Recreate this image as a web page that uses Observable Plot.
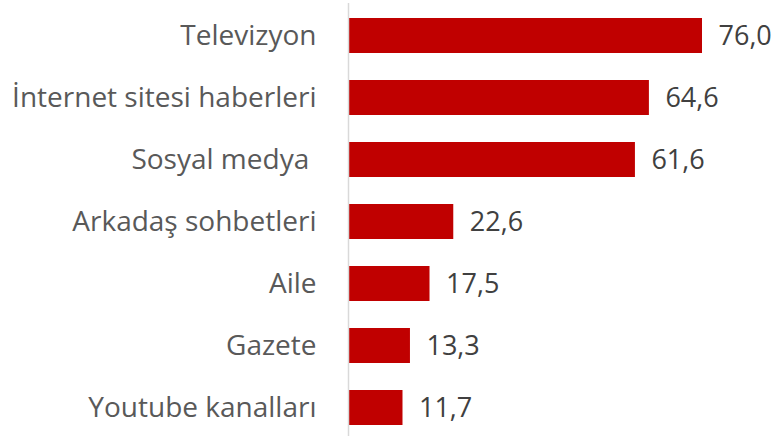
<!DOCTYPE html>
<html>
<head>
<meta charset="utf-8">
<script src="https://cdn.jsdelivr.net/npm/d3@7"></script>
<script src="https://cdn.jsdelivr.net/npm/@observablehq/plot@0.6"></script>
<style>
  body { margin: 0; background: #fff; }
  svg text { white-space: pre; }
</style>
</head>
<body>
<div id="chart"></div>
<script>
const categories = ["Televizyon", "İnternet sitesi haberleri", "Sosyal medya ", "Arkadaş sohbetleri", "Aile", "Gazete", "Youtube kanalları"];
const values = [76.0, 64.6, 61.6, 22.6, 17.5, 13.3, 11.7];

const data = categories.map((c, i) => ({category: c, value: values[i]}));
const fmt = v => d3.format(".1f")(v).replace(".", ",");
const FONT = "'Open Sans', sans-serif";

const chart = Plot.plot({
  width: 778,
  height: 438,
  marginLeft: 348,
  marginRight: 76,
  marginTop: 16,
  marginBottom: 12,
  style: {fontFamily: FONT, background: "#fff"},
  x: {domain: [0, 76], axis: null},
  y: {domain: categories, paddingInner: 0.44, paddingOuter: 0, label: null},
  marks: [
    Plot.barX(data, {x: "value", y: "category", fill: "#C00000"}),
    Plot.ruleX([0], {stroke: "#d9d9d9", strokeWidth: 1.5, insetTop: -13, insetBottom: -10}),
    Plot.text(data, {x: "value", y: "category", text: d => fmt(d.value), textAnchor: "start", dx: 16, fontSize: 27, fill: "#404040", fontFamily: FONT}),
    Plot.axisY({tickSize: 0, tickPadding: 32, fontSize: 28, color: "#595959", label: null, fontFamily: FONT})
  ]
});
document.getElementById("chart").appendChild(chart);
</script>
</body>
</html>
